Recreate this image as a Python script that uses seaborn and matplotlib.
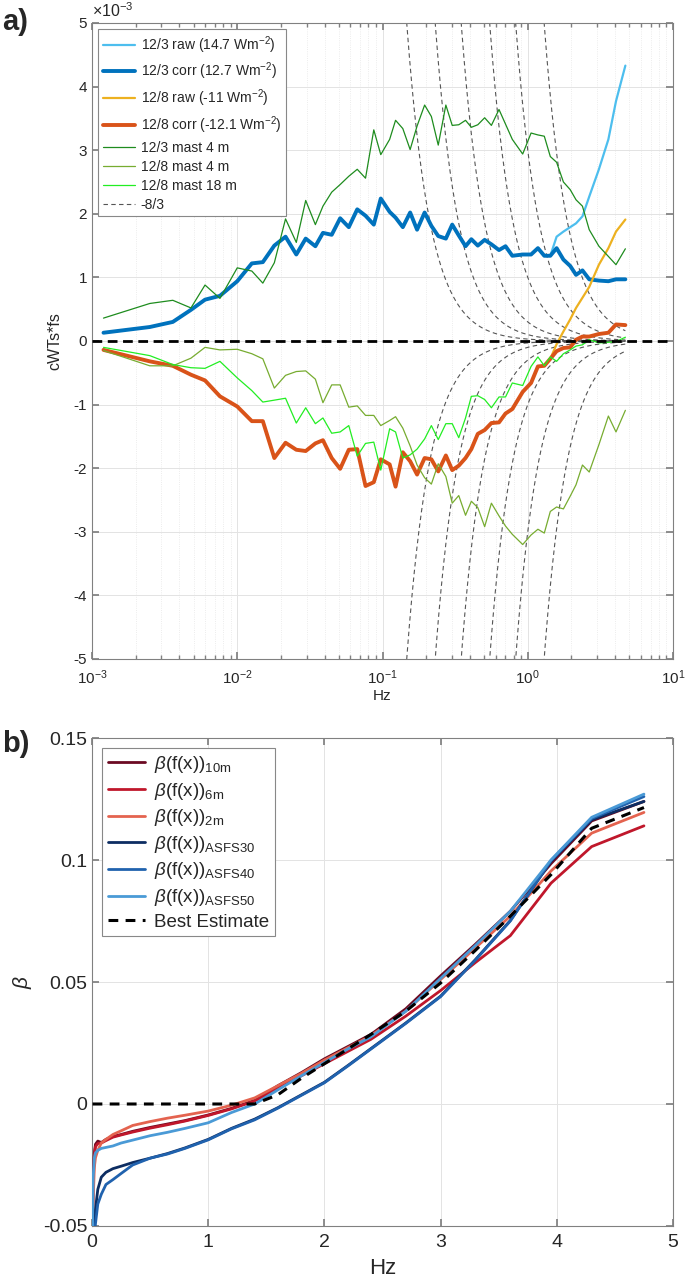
import numpy as np
import pandas as pd
import matplotlib
matplotlib.use('Agg')
import matplotlib.pyplot as plt
import seaborn as sns

#%% panel a data, values in units of 1e-3
freq_a = [0.0012, 0.0025, 0.0036, 0.0048, 0.0060, 0.0076, 0.0100, 0.0126, 0.0150, 0.0180,
          0.0215, 0.0255, 0.0296, 0.0345, 0.0389, 0.0447, 0.0511, 0.0586, 0.0670, 0.0764,
          0.0871, 0.0973, 0.112, 0.123, 0.138, 0.155, 0.173, 0.195, 0.217, 0.242,
          0.273, 0.302, 0.335, 0.373, 0.409, 0.453, 0.505, 0.562, 0.634, 0.703,
          0.783, 0.923, 1.054, 1.175, 1.30, 1.43, 1.58, 1.76, 1.96, 2.15,
          2.38, 2.65, 3.09, 3.59, 4.05, 4.70]

corr_1203 = [0.13, 0.22, 0.30, 0.49, 0.65, 0.71, 0.94, 1.22, 1.24, 1.50,
             1.64, 1.36, 1.61, 1.49, 1.70, 1.67, 1.93, 1.79, 2.07, 1.97,
             1.83, 2.24, 2.03, 1.94, 1.79, 2.02, 1.75, 2.02, 1.81, 1.65,
             1.61, 1.83, 1.66, 1.49, 1.60, 1.50, 1.59, 1.52, 1.43, 1.49,
             1.34, 1.36, 1.36, 1.46, 1.34, 1.34, 1.46, 1.28, 1.18, 1.04,
             1.11, 0.97, 0.95, 0.94, 0.97, 0.97]

raw_1203 = [0.13, 0.22, 0.30, 0.49, 0.65, 0.71, 0.94, 1.22, 1.24, 1.50,
            1.64, 1.36, 1.61, 1.49, 1.70, 1.67, 1.93, 1.79, 2.07, 1.97,
            1.83, 2.24, 2.03, 1.94, 1.79, 2.02, 1.75, 2.02, 1.81, 1.65,
            1.61, 1.83, 1.66, 1.49, 1.60, 1.50, 1.59, 1.52, 1.43, 1.49,
            1.34, 1.36, 1.36, 1.46, 1.34, 1.34, 1.64, 1.72, 1.79, 1.85,
            1.96, 2.27, 2.70, 3.17, 3.77, 4.33]

corr_1208 = [-0.14, -0.32, -0.39, -0.53, -0.62, -0.87, -1.03, -1.26, -1.26, -1.84,
             -1.60, -1.71, -1.73, -1.61, -1.56, -1.84, -2.01, -1.71, -1.70, -2.28,
             -2.22, -1.86, -1.94, -2.29, -1.75, -1.89, -2.10, -1.84, -1.86, -2.05,
             -1.80, -2.03, -1.96, -1.84, -1.70, -1.46, -1.40, -1.29, -1.28, -1.14,
             -1.07, -0.80, -0.66, -0.40, -0.39, -0.28, -0.16, -0.11, -0.10, 0.02,
             0.07, 0.07, 0.11, 0.13, 0.26, 0.25]

raw_1208 = [-0.14, -0.32, -0.39, -0.53, -0.62, -0.87, -1.03, -1.26, -1.26, -1.84,
            -1.60, -1.71, -1.73, -1.61, -1.56, -1.84, -2.01, -1.71, -1.70, -2.28,
            -2.22, -1.86, -1.94, -2.29, -1.75, -1.89, -2.10, -1.84, -1.86, -2.05,
            -1.80, -2.03, -1.96, -1.84, -1.70, -1.46, -1.40, -1.29, -1.28, -1.14,
            -1.07, -0.80, -0.66, -0.40, -0.39, -0.28, -0.05, 0.15, 0.34, 0.52,
            0.68, 0.85, 1.20, 1.46, 1.72, 1.91]

mast4_1203 = [0.36, 0.59, 0.64, 0.52, 0.88, 0.67, 1.15, 1.10, 0.91, 1.23,
              1.92, 1.55, 2.21, 1.83, 2.12, 2.34, 2.46, 2.59, 2.70, 2.56,
              3.32, 2.93, 3.17, 3.47, 3.34, 3.01, 3.38, 3.71, 3.53, 3.08,
              3.71, 3.39, 3.40, 3.47, 3.36, 3.40, 3.51, 3.39, 3.64, 3.41,
              3.17, 2.94, 3.27, 3.24, 3.22, 2.90, 2.81, 2.50, 2.38, 2.22,
              2.12, 1.75, 1.49, 1.33, 1.20, 1.45]

mast4_1208 = [-0.15, -0.39, -0.39, -0.27, -0.10, -0.14, -0.13, -0.20, -0.28, -0.74,
              -0.54, -0.48, -0.47, -0.60, -0.97, -0.69, -0.69, -1.04, -1.02, -1.17,
              -1.17, -1.33, -1.25, -1.19, -1.37, -1.65, -1.95, -2.15, -2.25, -1.93,
              -2.13, -2.55, -2.43, -2.74, -2.52, -2.62, -2.92, -2.55, -2.75, -2.91,
              -3.04, -3.20, -3.05, -2.96, -3.02, -2.68, -2.61, -2.64, -2.44, -2.26,
              -1.95, -2.06, -1.63, -1.18, -1.43, -1.09]

mast18_1208 = [-0.10, -0.23, -0.37, -0.42, -0.43, -0.32, -0.58, -0.78, -0.96, -0.93,
               -0.90, -1.29, -1.05, -1.30, -1.21, -1.45, -1.43, -1.33, -1.81, -1.61,
               -1.59, -2.03, -1.38, -1.43, -1.84, -1.79, -1.70, -1.54, -1.33, -1.55,
               -1.30, -1.30, -1.52, -1.21, -0.87, -0.86, -0.92, -1.05, -0.88, -0.88,
               -0.66, -0.70, -0.40, -0.25, -0.39, -0.25, -0.32, -0.20, -0.14, -0.08,
               -0.06, 0.02, -0.03, -0.02, -0.01, 0.06]

# amplitudes of the -8/3 reference curves (1e-3 units)
ref_amp = [0.03, 0.1, 0.3, 1.0, 3.0, 10.0]

#%% panel b data
freq_b = [0.005, 0.01, 0.02, 0.03, 0.05, 0.08, 0.12, 0.18, 0.25, 0.35,
          0.5, 0.65, 0.8, 1.0, 1.2, 1.4, 1.6, 1.8, 2.0, 2.2,
          2.4, 2.7, 3.0, 3.3, 3.6, 3.95, 4.3, 4.75]

beta_10m = [-0.045, -0.030, -0.020, -0.0165, -0.0152, -0.0158, -0.0145, -0.0133, -0.0125, -0.0112,
            -0.0096, -0.0082, -0.0068, -0.0045, -0.0018, 0.0015, 0.0075, 0.0128, 0.0185, 0.0235,
            0.0285, 0.039, 0.0525, 0.0655, 0.079, 0.0985, 0.116, 0.124]
beta_6m = [-0.050, -0.033, -0.021, -0.0175, -0.0162, -0.016, -0.015, -0.0136, -0.0127, -0.0115,
           -0.0099, -0.0085, -0.0070, -0.0047, -0.0020, 0.0012, 0.0065, 0.0115, 0.0165, 0.0215,
           0.0265, 0.036, 0.0465, 0.058, 0.069, 0.0905, 0.1055, 0.114]
beta_2m = [-0.060, -0.040, -0.026, -0.022, -0.019, -0.016, -0.0145, -0.0125, -0.011, -0.0088,
           -0.0072, -0.0058, -0.0046, -0.0029, -0.0005, 0.0025, 0.0075, 0.0125, 0.018, 0.023,
           0.028, 0.038, 0.051, 0.064, 0.077, 0.0955, 0.111, 0.1195]
beta_asfs30 = [-0.070, -0.058, -0.048, -0.043, -0.035, -0.030, -0.028, -0.0265, -0.0255, -0.024,
               -0.0222, -0.0203, -0.018, -0.0145, -0.010, -0.0062, -0.0015, 0.0037, 0.0089, 0.0157,
               0.0227, 0.0332, 0.0442, 0.0592, 0.0752, 0.0995, 0.1165, 0.124]
beta_asfs40 = [-0.080, -0.065, -0.055, -0.049, -0.041, -0.037, -0.033, -0.031, -0.0285, -0.025,
               -0.0222, -0.0205, -0.0182, -0.0147, -0.0102, -0.0065, -0.0017, 0.0035, 0.0087, 0.0155,
               0.0225, 0.033, 0.044, 0.059, 0.075, 0.0998, 0.117, 0.126]
beta_asfs50 = [-0.050, -0.030, -0.022, -0.020, -0.019, -0.0182, -0.0178, -0.0172, -0.016, -0.0148,
               -0.013, -0.0116, -0.010, -0.0077, -0.0035, 0.0, 0.0058, 0.0115, 0.017, 0.0225,
               0.0275, 0.038, 0.0515, 0.065, 0.079, 0.100, 0.1175, 0.127]
beta_best = [0.0, 0.0, 0.0, 0.0, 0.0, 0.0, 0.0, 0.0, 0.0, 0.0,
             0.0, 0.0, 0.0, 0.0, 0.0, 0.0, 0.0038, 0.0105, 0.0165, 0.0225,
             0.0285, 0.038, 0.0496, 0.063, 0.077, 0.094, 0.113, 0.1215]

#%% style
sns.set_theme(style="ticks")
plt.rcParams['font.family'] = ['Liberation Sans', 'DejaVu Sans']
plt.rcParams['axes.unicode_minus'] = False
plt.rcParams['axes.edgecolor'] = '#808080'
plt.rcParams['axes.linewidth'] = 0.8
plt.rcParams['xtick.color'] = '#808080'
plt.rcParams['ytick.color'] = '#808080'
plt.rcParams['xtick.labelcolor'] = '#262626'
plt.rcParams['ytick.labelcolor'] = '#262626'
plt.rcParams['mathtext.fontset'] = 'custom'
plt.rcParams['mathtext.rm'] = 'Liberation Sans'
plt.rcParams['mathtext.it'] = 'Liberation Sans:italic'

fig = plt.figure(figsize=(6.85, 12.84), dpi=100)
W, H = 685, 1284
ax1 = fig.add_axes([92 / W, 1 - 659 / H, (673 - 92) / W, (659 - 23) / H])
ax2 = fig.add_axes([92 / W, 1 - 1226 / H, (673 - 92) / W, (1226 - 738) / H])

#%% panel a
ax1.set_xscale('log')
series_a = [
    (raw_1203, '12/3 raw (14.7 Wm$^{-2}$)', '#4DBEEE', 1.6),
    (corr_1203, '12/3 corr (12.7 Wm$^{-2}$)', '#0072BD', 2.8),
    (raw_1208, '12/8 raw (-11 Wm$^{-2}$)', '#EDB120', 1.6),
    (corr_1208, '12/8 corr (-12.1 Wm$^{-2}$)', '#D95319', 2.8),
    (mast4_1203, '12/3 mast 4 m', '#1E8C1E', 0.9),
    (mast4_1208, '12/8 mast 4 m', '#77AC30', 0.9),
    (mast18_1208, '12/8 mast 18 m', '#22EE22', 0.9),
]
for vals, lab, col, lw in series_a:
    sns.lineplot(x=freq_a, y=vals, ax=ax1, color=col, lw=lw, label=lab, zorder=3)

f_ref = np.geomspace(0.1, freq_a[-1], 400)
for k, amp in enumerate(ref_amp):
    for sgn in (1, -1):
        lab = '-8/3' if (k == 0 and sgn == 1) else '_nolegend_'
        sns.lineplot(x=f_ref, y=sgn * amp * f_ref ** (-8 / 3), ax=ax1, color='#555555',
                     lw=0.8, ls=(0, (4, 3)), label=lab, zorder=2)

ax1.axhline(0, color='black', lw=2.0, ls=(0, (3.5, 2)), zorder=4)
ax1.set_xlim(1e-3, 10)
ax1.set_ylim(-5, 5)
ax1.set_yticks(range(-5, 6))
ax1.grid(which='major', color='#e3e3e3', lw=0.7)
ax1.grid(which='minor', axis='x', color='#e6e6e6', lw=0.6, ls=':')
ax1.tick_params(which='both', direction='in', top=True, right=True, labelsize=11)
ax1.tick_params(axis='x', which='major', pad=7)
ax1.tick_params(which='major', length=5)
ax1.tick_params(which='minor', length=3)
ax1.set_xlabel('Hz', fontsize=11, color='#262626', labelpad=1)
ax1.set_ylabel('cWTs*fs', fontsize=11.5, color='#262626', labelpad=8)
ax1.text(0.0, 1.004, r'$\times$10$^{-3}$', transform=ax1.transAxes, fontsize=11.5,
         color='#262626', ha='left', va='bottom')
leg1 = ax1.legend(loc='upper left', fontsize=10, handlelength=2.3, handletextpad=0.4,
                  labelspacing=0.36, borderpad=0.35, borderaxespad=0.45,
                  fancybox=False, framealpha=1, edgecolor='#888888')
leg1.get_frame().set_linewidth(0.8)

#%% panel b
series_b = [
    (beta_10m, r'$\beta$(f(x))$_{\mathrm{10m}}$', '#6B0A22'),
    (beta_6m, r'$\beta$(f(x))$_{\mathrm{6m}}$', '#C0172B'),
    (beta_2m, r'$\beta$(f(x))$_{\mathrm{2m}}$', '#E4634F'),
    (beta_asfs30, r'$\beta$(f(x))$_{\mathrm{ASFS30}}$', '#0D2D62'),
    (beta_asfs40, r'$\beta$(f(x))$_{\mathrm{ASFS40}}$', '#2062AE'),
    (beta_asfs50, r'$\beta$(f(x))$_{\mathrm{ASFS50}}$', '#4A9AD6'),
]
for vals, lab, col in series_b:
    sns.lineplot(x=freq_b, y=vals, ax=ax2, color=col, lw=2.0, label=lab, zorder=3)
sns.lineplot(x=freq_b, y=beta_best, ax=ax2, color='black', lw=2.2, ls=(0, (3.2, 2.4)),
             label='Best Estimate', zorder=4)

ax2.set_xlim(0, 5)
ax2.set_ylim(-0.05, 0.15)
ax2.set_yticks([-0.05, 0, 0.05, 0.1, 0.15])
ax2.set_yticklabels(['-0.05', '0', '0.05', '0.1', '0.15'])
ax2.set_xticks(range(0, 6))
ax2.grid(which='major', color='#e3e3e3', lw=0.7)
ax2.tick_params(which='both', direction='in', top=True, right=True, labelsize=14, length=5)
ax2.tick_params(axis='x', pad=6)
ax2.set_xlabel('Hz', fontsize=16, color='#262626', labelpad=5)
ax2.set_ylabel(r'$\beta$', fontsize=15, color='#262626', labelpad=6)
leg2 = ax2.legend(loc='upper left', fontsize=13.5, handlelength=2.0, handletextpad=0.45,
                  labelspacing=0.3, borderpad=0.3, borderaxespad=0.55,
                  fancybox=False, framealpha=1, edgecolor='#888888')
leg2.get_frame().set_linewidth(0.8)

#%% panel letters
fig.text(2 / W, 1 - 22 / H, 'a)', fontsize=21, fontweight='bold', va='center', ha='left')
fig.text(2 / W, 1 - 744 / H, 'b)', fontsize=21, fontweight='bold', va='center', ha='left')

plt.savefig('out.png', dpi=100)
